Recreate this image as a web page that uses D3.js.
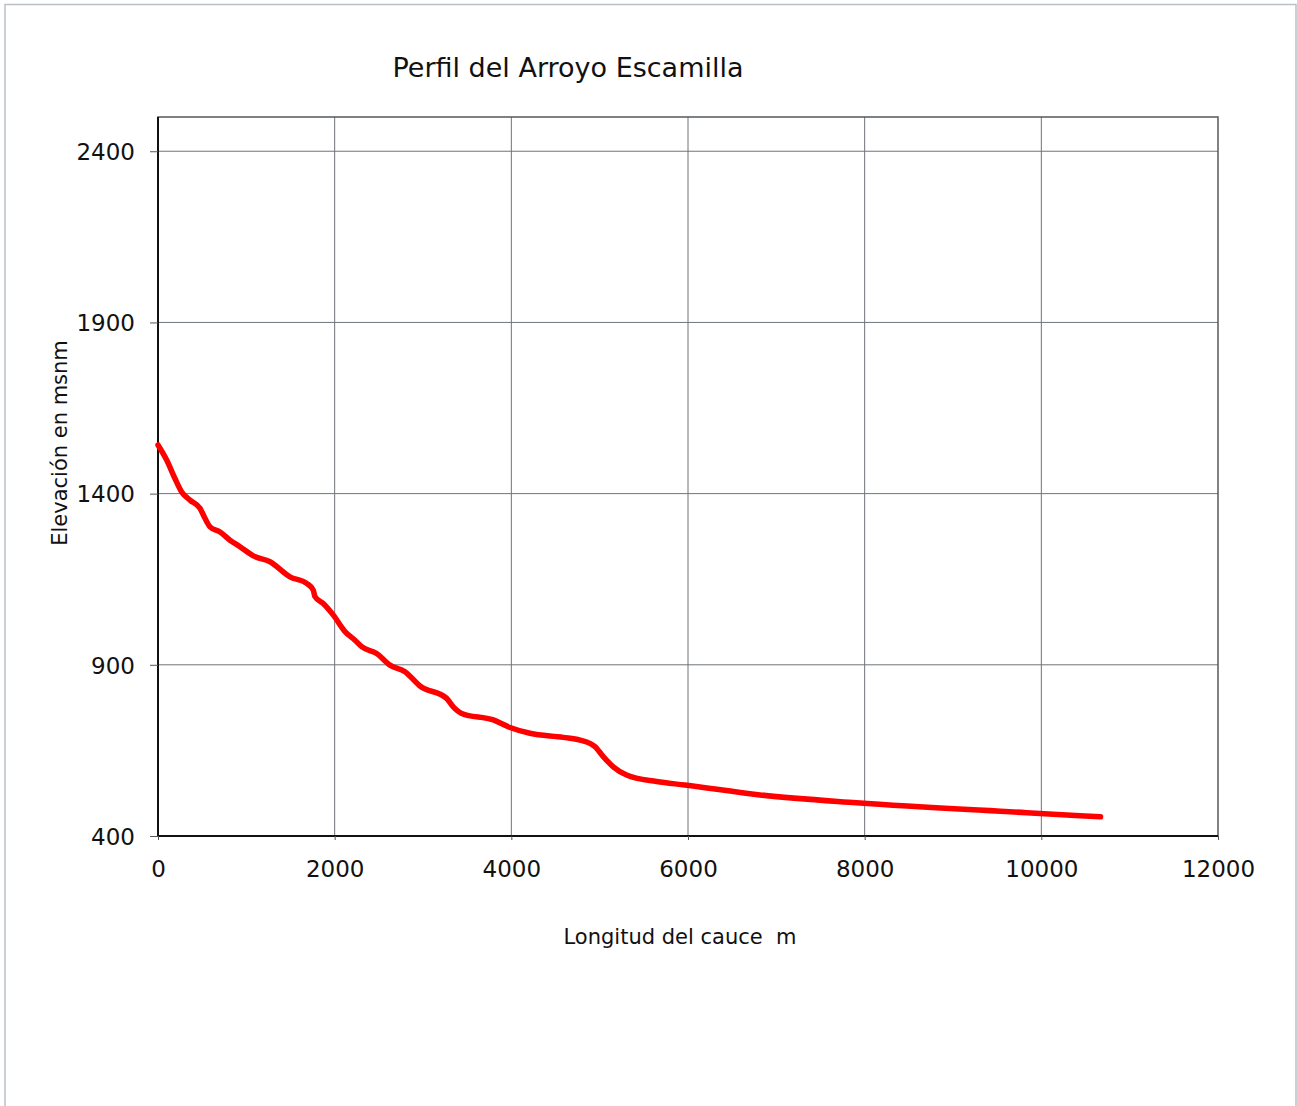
<!DOCTYPE html>
<html>
<head>
<meta charset="utf-8">
<script src="https://cdn.jsdelivr.net/npm/d3@7"></script>
<style>
  html, body { margin: 0; padding: 0; background: #fff; }
  svg { display: block; }
</style>
</head>
<body>
<svg id="chart" width="1297" height="1106"></svg>
<script>
// Data: distance along channel (m) and elevation (m a.s.l.)
const distance = [0, 98, 192, 268, 362, 475, 532, 589, 702, 815, 928, 1079, 1268, 1494, 1683, 1758, 1777, 1871, 1985, 2117, 2230, 2306, 2475, 2626, 2796, 2966, 3268, 3343, 3438, 3796, 3985, 4211, 4588, 4777, 4947, 5041, 5154, 5305, 5645, 5966, 6815, 7909, 9834, 10670];
const elevation = [1542, 1498, 1444, 1405, 1381, 1357, 1328, 1303, 1288, 1264, 1245, 1218, 1201, 1157, 1138, 1118, 1099, 1079, 1045, 997, 972, 953, 933, 899, 880, 838, 802, 777, 758, 739, 717, 700, 688, 680, 661, 632, 602, 578, 559, 549, 520, 497, 468, 456];
const xTicks = [0, 2000, 4000, 6000, 8000, 10000, 12000];
const yTicks = [400, 900, 1400, 1900, 2400];
const title = "Perfil del Arroyo Escamilla";
const xLabel = "Longitud del cauce  m";
const yLabel = "Elevación en msnm";

const svg = d3.select("#chart");
const font = "'DejaVu Sans', sans-serif";

// page frame
svg.append("path")
  .attr("d", "M5,1106 V4.5 H1296 V1106")
  .attr("fill", "none").attr("stroke", "#b9c1c6").attr("stroke-width", 1.5);

const pL = 158, pR = 1218, pT = 117, pB = 836;
const x = d3.scaleLinear().domain([0, 12000]).range([pL, pR]);
const y = d3.scaleLinear().domain([400, 2500]).range([pB, pT]);

// grid
const g = svg.append("g");
g.selectAll(".vg").data(xTicks.filter(d => d > 0 && d < 12000)).join("line")
  .attr("x1", d => x(d)).attr("x2", d => x(d)).attr("y1", pT).attr("y2", pB)
  .attr("stroke", "#6f7478").attr("stroke-width", 1);
g.selectAll(".hg").data(yTicks.filter(d => d > 400)).join("line")
  .attr("x1", pL).attr("x2", pR).attr("y1", d => y(d)).attr("y2", d => y(d))
  .attr("stroke", "#6f7478").attr("stroke-width", 1);

// plot border
svg.append("rect")
  .attr("x", pL).attr("y", pT).attr("width", pR - pL).attr("height", pB - pT)
  .attr("fill", "none").attr("stroke", "#555a5e").attr("stroke-width", 1.5);
svg.append("line").attr("x1", pL).attr("x2", pL).attr("y1", pT).attr("y2", pB)
  .attr("stroke", "#111").attr("stroke-width", 2);
svg.append("line").attr("x1", pL).attr("x2", pR).attr("y1", pB).attr("y2", pB)
  .attr("stroke", "#111").attr("stroke-width", 2);

// axes
const xAxis = svg.append("g").attr("transform", `translate(0,${pB})`)
  .call(d3.axisBottom(x).tickValues(xTicks).tickSize(4).tickSizeOuter(0).tickFormat(d3.format("d")));
const yAxis = svg.append("g").attr("transform", `translate(${pL},0)`)
  .call(d3.axisLeft(y).tickValues(yTicks).tickSize(8).tickSizeOuter(0).tickFormat(d3.format("d")));
[xAxis, yAxis].forEach(a => {
  a.select(".domain").remove();
  a.selectAll(".tick line").attr("stroke", "#555").attr("stroke-width", 1);
  a.selectAll("text").attr("fill", "#111").style("font-family", font).style("font-size", "23px");
});
xAxis.selectAll("text").attr("dy", null).attr("y", 41);
yAxis.selectAll("text").attr("x", -23).attr("dy", "0.36em");

// line
svg.append("path")
  .datum(distance.map((d, i) => [d, elevation[i]]))
  .attr("fill", "none").attr("stroke", "#ff0000").attr("stroke-width", 5.5)
  .attr("stroke-linecap", "round").attr("stroke-linejoin", "round")
  .attr("d", d3.line().x(d => x(d[0])).y(d => y(d[1])).curve(d3.curveMonotoneX));

// titles
svg.append("text").attr("x", 568).attr("y", 77).attr("text-anchor", "middle")
  .style("font-family", font).style("font-size", "27px").attr("fill", "#111").text(title);
svg.append("text").attr("x", 680).attr("y", 944).attr("text-anchor", "middle")
  .style("font-family", font).style("font-size", "21px").style("white-space", "pre")
  .attr("fill", "#111").text(xLabel);
svg.append("text").attr("transform", "translate(67,443) rotate(-90)").attr("text-anchor", "middle")
  .style("font-family", font).style("font-size", "21px").attr("fill", "#111").text(yLabel);
</script>
</body>
</html>
